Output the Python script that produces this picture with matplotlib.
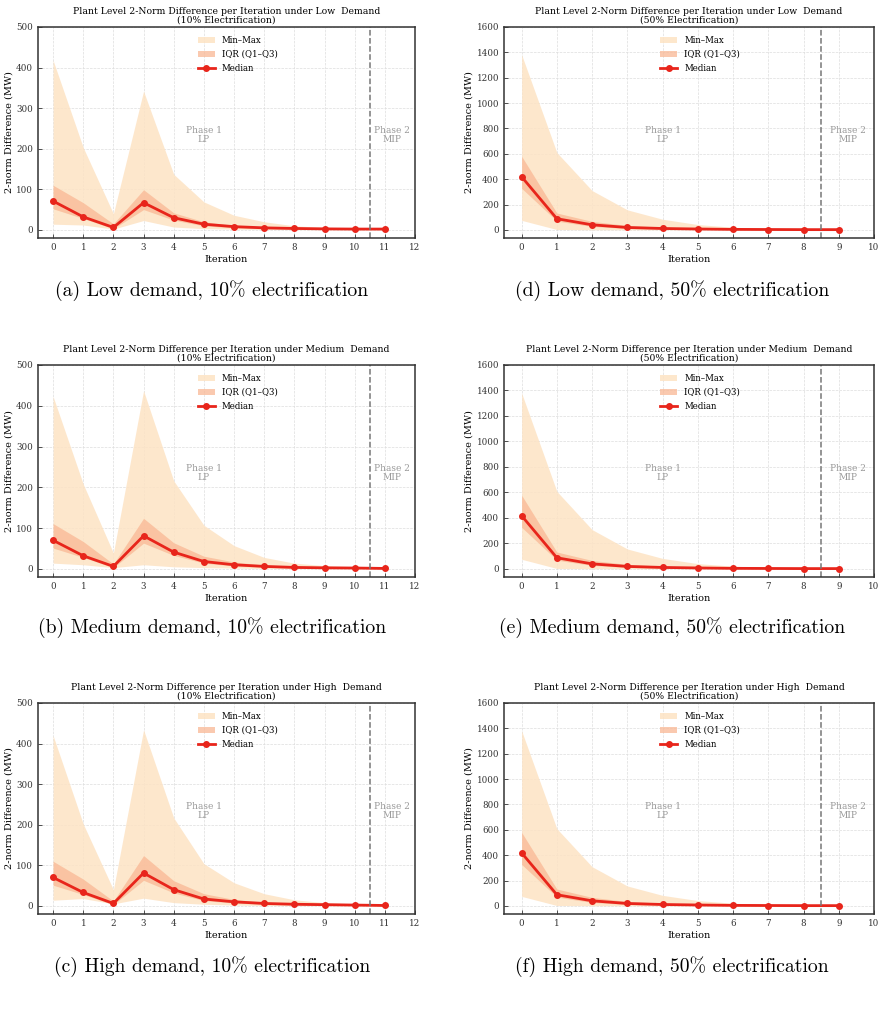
import numpy as np
import matplotlib
matplotlib.use('Agg')
import matplotlib.pyplot as plt
import matplotlib.transforms as mtransforms

plt.rcParams['font.family'] = 'DejaVu Serif'

# ---- data (MW) ----
iters10 = list(range(12))
iters50 = list(range(10))

low10_min = [14, 12, 2, 23, 7, 3, 2, 1, 0.6, 0.4, 0.3, 0.2]
low10_q1 = [52, 28, 3, 50, 24, 10, 5, 3, 2, 1, 1, 1]
low10_med = [71, 32, 6, 67, 30, 14, 8, 5, 3.5, 2.5, 2, 2]
low10_q3 = [110, 67, 15, 99, 42, 20, 11, 6, 4, 3, 2.5, 2.5]
low10_max = [418, 203, 40, 342, 137, 69, 36, 20, 10, 6, 4, 3]

med10_min = [14, 10, 3, 10, 5, 3, 2, 1, 0.6, 0.4, 0.3, 0.2]
med10_q1 = [51, 28, 3, 63, 33, 14, 7, 4, 2.5, 1.5, 1, 0.5]
med10_med = [70, 32, 6, 81, 41, 18, 10, 6, 3.5, 2.5, 2, 1]
med10_q3 = [111, 67, 12, 124, 64, 31, 17, 9, 6, 4, 3, 2]
med10_max = [423, 208, 39, 437, 216, 107, 57, 28, 14, 8, 5, 3]

high10_min = [14, 18, 5, 19, 8, 4, 2, 1, 0.6, 0.4, 0.3, 0.2]
high10_q1 = [51, 28, 3, 63, 32, 13, 7, 4, 2.5, 1.5, 1, 0.5]
high10_med = [70, 33, 6, 81, 40, 17, 10, 6, 4, 3, 2, 1]
high10_q3 = [110, 66, 12, 124, 62, 30, 16, 9, 6, 4, 3, 2]
high10_max = [420, 202, 40, 434, 217, 104, 57, 30, 15, 8, 5, 3]

low50_min = [75, 3, 1, 1, 0.5, 0.4, 0.3, 0.2, 0.2, 0.1]
low50_q1 = [328, 69, 27, 11, 7, 4, 2, 1.5, 1, 1]
low50_med = [419, 88, 40, 19, 11, 7, 4, 3, 2, 2]
low50_q3 = [581, 133, 67, 35, 21, 12, 7, 4, 3, 2.5]
low50_max = [1382, 610, 310, 158, 84, 42, 21, 10, 5, 3]

med50_min = [75, 3, 1, 1, 0.5, 0.4, 0.3, 0.2, 0.2, 0.1]
med50_q1 = [326, 68, 27, 11, 7, 4, 2, 1.5, 1, 1]
med50_med = [417, 87, 39, 19, 11, 7, 4, 3, 2, 2]
med50_q3 = [578, 132, 66, 35, 21, 12, 7, 4, 3, 2.5]
med50_max = [1380, 608, 308, 156, 82, 41, 21, 10, 5, 3]

high50_min = [75, 3, 1, 1, 0.5, 0.4, 0.3, 0.2, 0.2, 0.1]
high50_q1 = [327, 69, 27, 11, 7, 4, 2, 1.5, 1, 1]
high50_med = [418, 88, 40, 19, 11, 7, 4, 3, 2, 2]
high50_q3 = [580, 133, 67, 35, 21, 12, 7, 4, 3, 2.5]
high50_max = [1381, 609, 309, 157, 83, 42, 21, 10, 5, 3]

demands = ['Low', 'Medium', 'High']
captions_10 = ['(a) Low demand, 10% electrification',
               '(b) Medium demand, 10% electrification',
               '(c) High demand, 10% electrification']
captions_50 = ['(d) Low demand, 50% electrification',
               '(e) Medium demand, 50% electrification',
               '(f) High demand, 50% electrification']

panels_10 = [
    (low10_min, low10_q1, low10_med, low10_q3, low10_max),
    (med10_min, med10_q1, med10_med, med10_q3, med10_max),
    (high10_min, high10_q1, high10_med, high10_q3, high10_max),
]
panels_50 = [
    (low50_min, low50_q1, low50_med, low50_q3, low50_max),
    (med50_min, med50_q1, med50_med, med50_q3, med50_max),
    (high50_min, high50_q1, high50_med, high50_q3, high50_max),
]

W, H = 885, 1009
fig = plt.figure(figsize=(W / 100, H / 100), dpi=100)

# axes boxes in pixels: (left, right), rows (top, bottom)
cols = [(38, 415), (504, 874)]
rows = [(27, 238), (365, 577), (703, 914)]
cap_y = [291, 628, 967]
cap_x = [212, 672]


def draw_panel(ax, x, series, demand, pct, xmax, ymax, split):
    mn, q1, md, q3, mx = series
    ax.fill_between(x, mn, mx, color='#fde3c4', alpha=0.85, lw=0, label='Min–Max')
    ax.fill_between(x, q1, q3, color='#f9b894', alpha=0.75, lw=0, label='IQR (Q1–Q3)')
    ax.plot(x, md, color='#e8251b', lw=2, marker='o', ms=4, label='Median')
    ax.axvline(split, color='#777777', ls='--', lw=1.1)
    # phase labels: centre of phase-1 iterations, middle of the phase-2 strip
    trans = mtransforms.blended_transform_factory(ax.transData, ax.transAxes)
    ax.text((split - 0.5) / 2, 0.49, 'Phase 1\nLP', transform=trans, ha='center',
            va='center', fontsize=6.5, color='#999999', linespacing=1.0)
    ax.text((split + xmax) / 2, 0.49, 'Phase 2\nMIP', transform=trans, ha='center',
            va='center', fontsize=6.5, color='#999999', linespacing=1.0)
    ax.set_xlim(-0.5, xmax)
    ax.set_ylim(-ymax * 0.04, ymax)
    ax.set_xticks(range(0, xmax + 1))
    ax.grid(True, ls='--', lw=0.5, color='#dddddd')
    ax.set_axisbelow(True)
    ax.tick_params(direction='in', labelsize=6.3, length=3, width=0.6, colors='#333333')
    for s in ax.spines.values():
        s.set_color('#333333')
        s.set_linewidth(1.1)
    ax.set_xlabel('Iteration', fontsize=7, labelpad=2)
    ax.set_ylabel('2-norm Difference (MW)', fontsize=7, labelpad=2)
    ax.set_title(f'Plant Level 2-Norm Difference per Iteration under {demand}  Demand\n'
                 f'({pct}% Electrification)', fontsize=6.65, pad=3, linespacing=1.0)
    ax.legend(loc='upper center', bbox_to_anchor=(0.53, 1.0), frameon=False,
              fontsize=6.2, handlelength=2.0, borderaxespad=0.6, labelspacing=0.6)


for c in range(2):
    for r in range(3):
        l, rr = cols[c]
        t, b = rows[r]
        ax = fig.add_axes([l / W, 1 - b / H, (rr - l) / W, (b - t) / H])
        if c == 0:
            draw_panel(ax, iters10, panels_10[r], demands[r], 10, 12, 500, 10.5)
            cap = captions_10[r]
        else:
            draw_panel(ax, iters50, panels_50[r], demands[r], 50, 10, 1600, 8.5)
            cap = captions_50[r]
        fig.text(cap_x[c] / W, 1 - cap_y[r] / H, cap, ha='center', va='center',
                 fontsize=14.2, family=['cmr10', 'DejaVu Serif'])

fig.savefig('out.png', dpi=100)
